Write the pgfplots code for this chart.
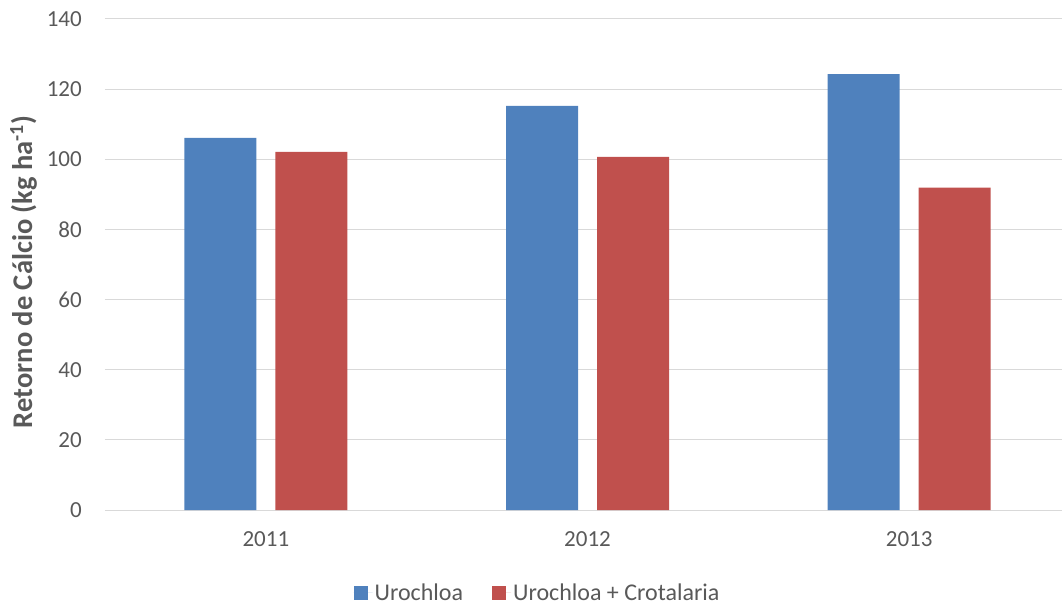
\documentclass[border=0pt]{standalone}
\usepackage{pgfplots}
\pgfplotsset{compat=1.18}
\usepackage{fontspec}
\setmainfont{Carlito}
\definecolor{barblue}{HTML}{4F81BD}
\definecolor{barred}{HTML}{C0504D}
\definecolor{gridc}{HTML}{D9D9D9}
\definecolor{txt}{HTML}{595959}
\begin{document}
\begin{tikzpicture}
\begin{axis}[
  scale only axis, width=957pt, height=491pt,
  at={(0pt,0pt)}, anchor=south west,
  xmin=-0.5, xmax=2.475, ymin=0, ymax=140,
  ytick={0,20,...,140}, xtick={0,1,2}, xticklabels={2011,2012,2013},
  axis line style={draw=none},
  major tick length=0pt,
  ymajorgrids, grid style={draw=gridc, line width=1pt},
  /pgf/number format/assume math mode=true,
  tick label style={font=\fontsize{23}{27}\selectfont, text=txt},
  yticklabel style={inner sep=0pt, xshift=-23pt},
  xticklabel style={inner sep=0pt, yshift=-21pt},
  ylabel={\textbf{Retorno de Cálcio (kg ha\textsuperscript{-1})}},
  every axis y label/.style={at={(axis description cs:-0.085,0.485)}, rotate=90, anchor=center, font=\fontsize{28.5}{33}\selectfont, text=txt},
  ybar, bar width=72pt,
  legend style={at={(axis description cs:0.452,-0.169)}, anchor=center, draw=none, legend columns=2,
    font=\fontsize{24}{28}\selectfont, text=txt,
    /tikz/every even column/.append style={column sep=27pt}},
  legend image code/.code={\fill[#1] (0pt,-7pt) rectangle (14pt,7pt);\path (0pt,0pt) -- (19pt,0pt);},
  clip=false,
]
\addplot[fill=barblue, draw=none, bar shift=-45.5pt] coordinates {(0,106.1) (1,115.2) (2,124.3)};
\addplot[fill=barred, draw=none, bar shift=45.5pt] coordinates {(0,102.1) (1,100.7) (2,91.9)};
\legend{Urochloa, Urochloa + Crotalaria}
\end{axis}
\pgfresetboundingbox
\path[use as bounding box] (-105pt,-98pt) rectangle (957pt,510pt);
\end{tikzpicture}
\end{document}
